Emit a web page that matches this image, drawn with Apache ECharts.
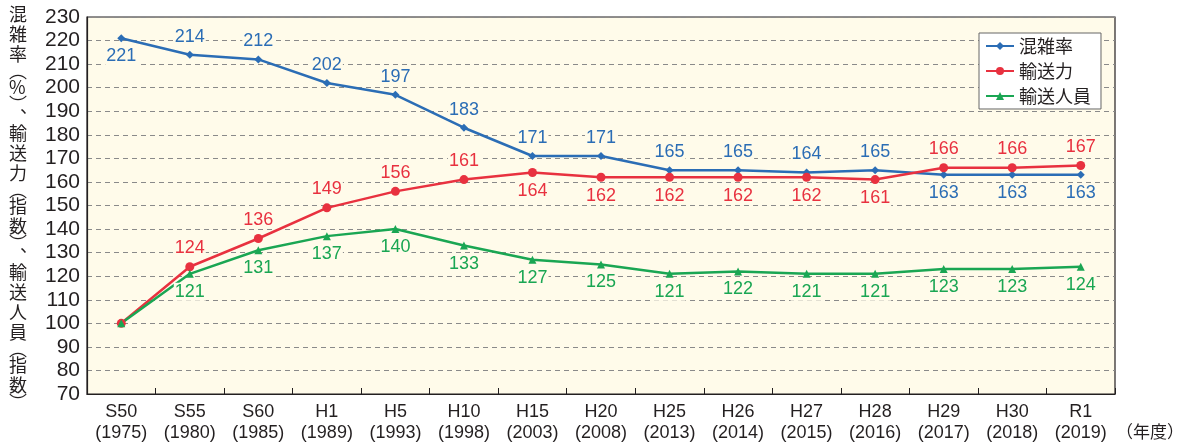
<!DOCTYPE html>
<html>
<head>
<meta charset="utf-8">
<script src="https://cdn.jsdelivr.net/npm/echarts@6/dist/echarts.min.js"></script>
<style>
  html, body { margin: 0; padding: 0; background: #fff; }
  #chart { width: 1181px; height: 447px; }
</style>
</head>
<body>
<div id="chart"></div>
<script>
// 年度
var eras = ['S50', 'S55', 'S60', 'H1', 'H5', 'H10', 'H15', 'H20', 'H25', 'H26', 'H27', 'H28', 'H29', 'H30', 'R1'];
var years = ['1975', '1980', '1985', '1989', '1993', '1998', '2003', '2008', '2013', '2014', '2015', '2016', '2017', '2018', '2019'];

var congestion = [221, 214, 212, 202, 197, 183, 171, 171, 165, 165, 164, 165, 163, 163, 163];
var capacity = [100, 124, 136, 149, 156, 161, 164, 162, 162, 162, 162, 161, 166, 166, 167];
var passengers = [100, 121, 131, 137, 140, 133, 127, 125, 121, 122, 121, 121, 123, 123, 124];

// ラベル位置 (上 / 下 / なし)
var congestionPos = ['bottom', 'top', 'top', 'top', 'top', 'top', 'top', 'top', 'top', 'top', 'top', 'top', 'bottom', 'bottom', 'bottom'];
var capacityPos = ['none', 'top', 'top', 'top', 'top', 'top', 'bottom', 'bottom', 'bottom', 'bottom', 'bottom', 'bottom', 'top', 'top', 'top'];
var passengersPos = ['none', 'bottom', 'bottom', 'bottom', 'bottom', 'bottom', 'bottom', 'bottom', 'bottom', 'bottom', 'bottom', 'bottom', 'bottom', 'bottom', 'bottom'];

var FONT = '"Liberation Sans", Arial, "Noto Sans CJK JP", sans-serif';
var CJK = '"Noto Sans CJK JP", sans-serif';
var PLOT_BG = '#fffbea';

function withLabels(values, pos) {
  return values.map(function (v, i) {
    if (pos[i] === 'none') {
      return { value: v, label: { show: false } };
    }
    return { value: v, label: { position: pos[i] } };
  });
}

function makeSeries(name, values, pos, color, symbol, size) {
  return {
    name: name,
    type: 'line',
    data: withLabels(values, pos),
    symbol: symbol,
    symbolSize: size,
    color: color,
    lineStyle: { width: 2.5, color: color },
    itemStyle: { color: color },
    label: {
      show: true,
      color: color,
      fontSize: 18,
      fontFamily: FONT,
      distance: 5,
      backgroundColor: PLOT_BG,
      padding: [0, 1]
    },
    animation: false
  };
}

// 縦書きの軸名
var axisChars = ['混', '雑', '率', '︵', '%', '︶', '︑', '輸', '送', '力', '︵', '指', '数', '︶', '︑', '輸', '送', '人', '員', '︵', '指', '数', '︶'];
var axisText = axisChars.map(function (c) {
  if (c === '︵' || c === '︶') return '{p|' + c + '}';
  if (c === '︑') return '{d|' + c + '}';
  return '{c|' + c + '}';
}).join('\n');

var chart = echarts.init(document.getElementById('chart'));
var option = {
  backgroundColor: '#fff',
  textStyle: { fontFamily: FONT },
  grid: {
    left: 87, right: 66, top: 17, bottom: 53,
    show: true,
    backgroundColor: PLOT_BG,
    borderColor: '#231f20',
    borderWidth: 1.2
  },
  legend: {
    data: ['混雑率', '輸送力', '輸送人員'],
    orient: 'vertical',
    left: 979,
    top: 33,
    padding: [4, 10, 4, 6],
    itemGap: 7,
    itemWidth: 28,
    itemHeight: 10,
    backgroundColor: '#fff',
    borderColor: '#666',
    borderWidth: 1,
    borderRadius: 0,
    textStyle: { fontSize: 18, color: '#231f20', fontFamily: CJK }
  },
  xAxis: {
    type: 'category',
    data: eras,
    boundaryGap: true,
    axisLine: { show: true, lineStyle: { color: '#231f20', width: 1.2 } },
    axisTick: { show: true, inside: true, length: 6, lineStyle: { color: '#231f20' } },
    axisLabel: {
      interval: 0,
      fontSize: 18,
      lineHeight: 21,
      color: '#231f20',
      margin: 8,
      formatter: function (v, i) { return v + '\n(' + years[i] + ')'; }
    },
    splitLine: { show: false }
  },
  yAxis: {
    type: 'value',
    min: 70,
    max: 230,
    interval: 10,
    axisLine: { show: true, lineStyle: { color: '#231f20', width: 1.2 } },
    axisTick: { show: false },
    axisLabel: { fontSize: 21, color: '#231f20', margin: 7 },
    splitLine: { show: true, lineStyle: { color: '#8a8a8a', type: [5, 4], width: 1.2 } }
  },
  graphic: [
    {
      type: 'text',
      left: 9,
      top: 5,
      style: {
        text: axisText,
        fontFamily: CJK,
        fill: '#231f20',
        rich: {
          c: { fontSize: 18, lineHeight: 20, fill: '#231f20', fontFamily: CJK },
          p: { fontSize: 18, lineHeight: 13.5, fill: '#231f20', fontFamily: CJK },
          d: { fontSize: 18, lineHeight: 12, fill: '#231f20', fontFamily: CJK }
        }
      }
    },
    {
      type: 'text',
      left: 1116,
      top: 423,
      style: { text: '（年度）', fontSize: 17, fill: '#231f20', fontFamily: CJK }
    }
  ],
  series: [
    makeSeries('混雑率', congestion, congestionPos, '#2b6db5', 'diamond', 8),
    makeSeries('輸送力', capacity, capacityPos, '#e8313f', 'circle', 9),
    makeSeries('輸送人員', passengers, passengersPos, '#1aa653', 'triangle', 8)
  ]
};
chart.setOption(option);
</script>
</body>
</html>
